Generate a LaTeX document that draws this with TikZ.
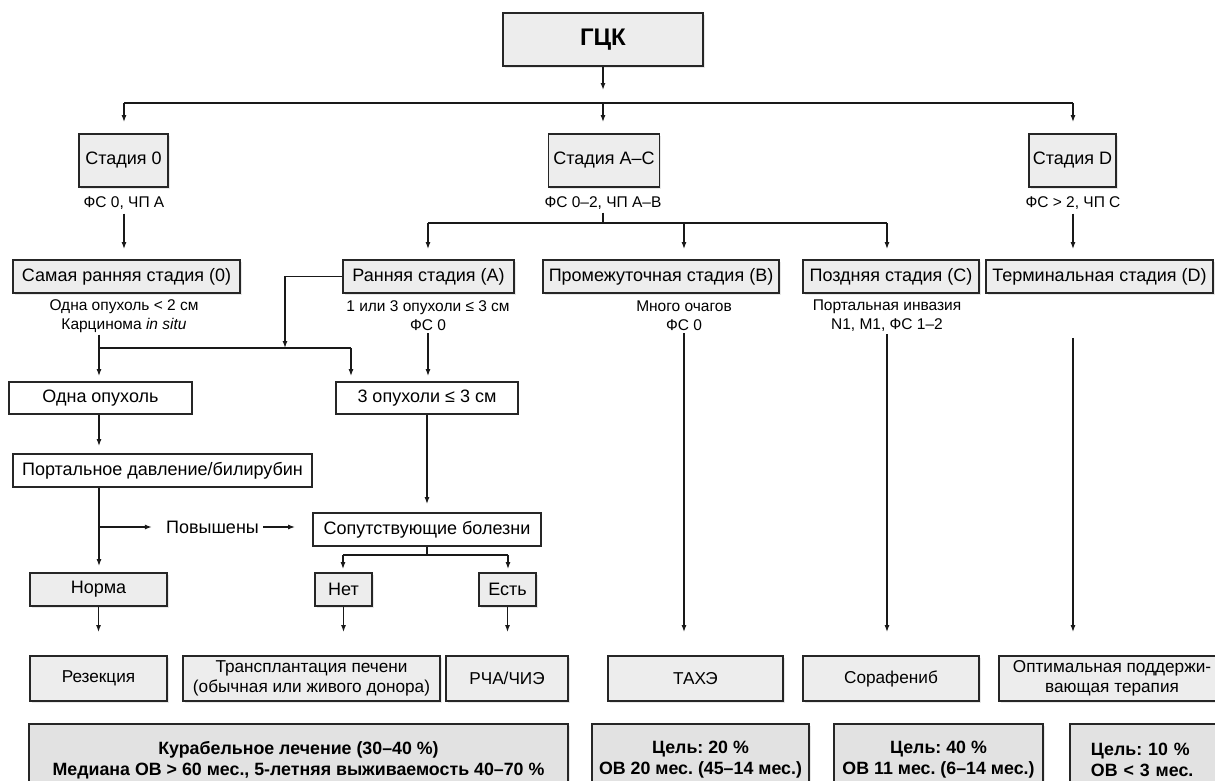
\documentclass[tikz,border=0pt]{standalone}
\usepackage{fontspec}
\setmainfont{Liberation Sans}
\usetikzlibrary{arrows.meta,shadows}
\definecolor{bord}{HTML}{262626}
\definecolor{fillA}{HTML}{EDEDED}
\definecolor{fillB}{HTML}{E2E2E2}
\begin{document}
\frenchspacing
\begin{tikzpicture}[x=1pt,y=-1pt,
  base/.style={draw=bord, line width=1.8pt, inner sep=0pt, align=center, font=\fontsize{18}{20}\selectfont},
  sz/.style 2 args={minimum width=#1, minimum height=#2},
  gbox/.style={base, fill=fillA, drop shadow={shadow xshift=1.5pt, shadow yshift=-2pt, opacity=0.18}},
  wbox/.style={base, fill=white},
  tbox/.style={gbox, font=\fontsize{17.2}{20}\selectfont},
  obox/.style={gbox, fill=fillB, font=\fontsize{17.8}{21}\selectfont\bfseries},
  lbl/.style={align=center, inner sep=0pt, font=\fontsize{15.5}{19}\selectfont},
  arr/.style={line width=1.3pt, draw=black!90, -{Latex[length=7pt,width=5pt]}},
  ln/.style={line width=1.3pt, draw=black!90}]
\useasboundingbox (0,0) rectangle (1215,780);
\clip (0,0) rectangle (1215,780);

% top
\node[gbox, sz={200}{53}, font=\fontsize{24}{26}\selectfont\bfseries] (gck) at (603,39.5) {ГЦК};
\coordinate (bus) at (603,103);
\coordinate (busL) at (124,103);
\coordinate (busR) at (1073,103);

% stage boxes
\node[gbox, sz={89}{53}] (s0) at (123.5,160.5) {Стадия 0};
\node[gbox, sz={111}{53}] (sac) at (604,160.5) {Стадия А–С};
\node[gbox, sz={87}{53}] (sd) at (1072.5,160.5) {Стадия D};
\node[lbl] (l0) at (124,203) {ФС 0, ЧП А};
\node[lbl] (lac) at (603,203) {ФС 0–2, ЧП А–В};
\node[lbl] (ld) at (1073,203) {ФС > 2, ЧП С};

% row 2
\node[gbox, sz={227}{33}] (e0) at (126.5,276.5) {Самая ранняя стадия (0)};
\node[gbox, sz={171}{33}] (ea) at (428.5,276.5) {Ранняя стадия (А)};
\node[gbox, sz={236}{33}] (eb) at (661,276.5) {Промежуточная стадия (В)};
\node[gbox, sz={176}{33}] (ec) at (891,276.5) {Поздняя стадия (С)};
\node[gbox, sz={227}{33}] (ed) at (1099.5,276.5) {Терминальная стадия (D)};
\node[lbl] (e0l) at (124,316) {Одна опухоль < 2 см\\Карцинома \textit{in situ}};
\node[lbl] (eal) at (428,316) {1 или 3 опухоли ≤ 3 см\\ФС 0};
\node[lbl] (ebl) at (684,316) {Много очагов\\ФС 0};
\node[lbl] (ecl) at (887,316) {Портальная инвазия\\N1, M1, ФС 1–2};

% row 3
\node[wbox, sz={183}{32}] (oo) at (100.5,398) {Одна опухоль};
\node[wbox, sz={182}{32}] (t3) at (427,398) {3 опухоли ≤ 3 см};
\node[wbox, sz={299}{33}] (pd) at (162.5,470.5) {Портальное давление/билирубин};
\node[wbox, sz={228}{33}] (sb) at (427,529.5) {Сопутствующие болезни};
\node[lbl, font=\fontsize{18}{20}\selectfont] (pov) at (212.5,527) {Повышены};
\node[gbox, sz={137}{33}] (norma) at (98.5,589.5) {Норма};
\node[gbox, sz={57}{33}] (net) at (343.5,589.5) {Нет};
\node[gbox, sz={57}{33}] (est) at (507.5,589.5) {Есть};

% treatments
\node[tbox, sz={137}{45}] (rez) at (98.5,678.5) {Резекция};
\node[tbox, sz={257}{45}] (trans) at (311.5,678.5) {Трансплантация печени\\(обычная или живого донора)};
\node[tbox, sz={122}{45}] (rcha) at (507,678.5) {РЧА/ЧИЭ};
\node[tbox, sz={175}{45}] (taxe) at (695.5,678.5) {ТАХЭ};
\node[tbox, sz={176}{45}] (sora) at (891,678.5) {Сорафениб};
\node[tbox, sz={226}{45}] (opt) at (1112,678.5) {Оптимальная поддержи-\\вающая терапия};

% outcomes
\node[obox, sz={539}{72}] (cur) at (298.5,760) {Курабельное лечение (30–40 \%)\\Медиана ОВ > 60 мес., 5-летняя выживаемость 40–70 \%};
\node[obox, sz={217}{72}] (o1) at (700.5,760) {Цель: 20 \%\\ОВ 20 мес. (45–14 мес.)};
\node[obox, sz={209}{72}] (o2) at (938.5,760) {Цель: 40 \%\\ОВ 11 мес. (6–14 мес.)};
\node[obox, sz={172}{72}, anchor=west, text width=130pt, align=left, inner xsep=21pt] (o3) at (1069,760) {Цель: 10 \%\\ОВ < 3 мес.};

% connectors: top
\draw[arr, shorten >=13pt] (gck) -- (bus);
\draw[ln] (busL) -- (busR);
\draw[arr, shorten >=11pt] (busL) -- (busL |- s0.north);
\draw[arr, shorten >=11pt] (bus) -- (bus |- sac.north);
\draw[arr, shorten >=11pt] (busR) -- (busR |- sd.north);

% stage 0 / D
\draw[arr, shorten <=4pt, shorten >=10pt] (l0.south) -- (l0.south |- e0.north);
\draw[arr, shorten <=4pt, shorten >=10pt] (ld.south) -- (ld.south |- ed.north);

% stage A-C branch
\coordinate (acL) at (428,223);
\coordinate (acM) at (684,223);
\coordinate (acR) at (887,223);
\draw[ln, shorten <=3pt] (lac.south) -- (lac.south |- acL);
\draw[ln] (acL) -- (acR);
\draw[arr, shorten >=10pt] (acL) -- (acL |- ea.north);
\draw[arr, shorten >=10pt] (acM) -- (acM |- eb.north);
\draw[arr, shorten >=10pt] (acR) -- (acR |- ec.north);

% early stages junction
\coordinate (j1) at (285,348);
\coordinate (jL) at (99,348);
\coordinate (jR) at (351,348);
\draw[arr] (ea.west) -| (j1);
\draw[ln, shorten <=2pt] (jL |- e0l.south) -- (jL);
\draw[ln] (jL) -- (jR);
\draw[arr, shorten >=5pt] (jL) -- (jL |- oo.north);
\draw[arr, shorten >=5pt] (jR) -- (jR |- t3.north);
\draw[arr, shorten <=2pt, shorten >=5pt] (eal.south) -- (eal.south |- t3.north);

% row 3 flow
\draw[arr, shorten >=7pt] (jL |- oo.south) -- (jL |- pd.north);
\draw[arr, shorten >=8pt] (t3) -- (sb);
\draw[arr, shorten >=6pt] (jL |- pd.south) -- (jL |- norma.north);
\coordinate (pb) at (99,527);
\draw[arr, shorten >=14pt] (pb) -- (pov.west);
\draw[arr, shorten <=4pt, shorten >=17pt] (pov.east) -- (pov.east -| sb.west);
\coordinate (nL) at (343,555);
\coordinate (nR) at (508,555);
\draw[ln] (sb.south) -- (sb.south |- nL);
\draw[ln] (nL) -- (nR);
\draw[arr, shorten >=3pt] (nL) -- (nL |- net.north);
\draw[arr, shorten >=3pt] (nR) -- (nR |- est.north);

% to treatments
\draw[arr, shorten >=23pt] (norma) -- (rez);
\draw[arr, shorten >=23pt] (net.south) -- (net.south |- trans.north);
\draw[arr, shorten >=23pt] (est.south) -- (est.south |- rcha.north);
\draw[arr, shorten <=2pt, shorten >=23pt] (ebl.south) -- (ebl.south |- taxe.north);
\draw[arr, shorten <=2pt, shorten >=23pt] (ecl.south) -- (ecl.south |- sora.north);
\draw[arr, shorten <=44pt, shorten >=23pt] (ld.south |- ed.south) -- (ld.south |- opt.north);
\end{tikzpicture}
\end{document}
